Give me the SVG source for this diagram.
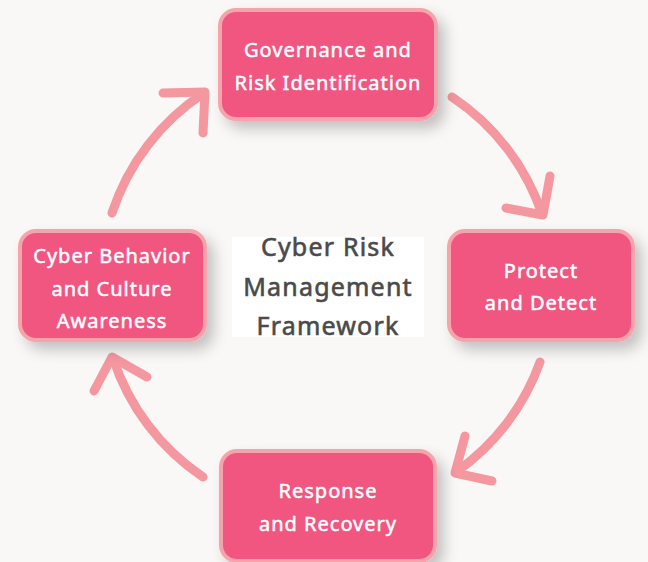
<svg xmlns="http://www.w3.org/2000/svg" width="648" height="562" viewBox="0 0 648 562">
<defs>
<style>
.node rect{fill:#f0567f;stroke:#f6a4ab;stroke-width:4}
.node text{font-family:"Noto Sans","Open Sans",sans-serif;font-size:20px;font-weight:400;fill:#ffffff;stroke:#ffffff;stroke-width:0.5px;text-anchor:middle;letter-spacing:1px}
.center text{font-family:"Noto Sans","Open Sans",sans-serif;font-size:25px;font-weight:400;fill:#4a4a4a;stroke:#4a4a4a;stroke-width:0.6px;text-anchor:middle;letter-spacing:1.2px}
.arc{fill:none;stroke:#f4979f;stroke-width:9;stroke-linecap:round;stroke-linejoin:round}
</style>
<filter id="sh" x="-20%" y="-20%" width="150%" height="160%">
<feDropShadow dx="7" dy="8" stdDeviation="7" flood-color="#000" flood-opacity="0.22"/>
</filter>
</defs>
<rect width="648" height="562" fill="#f9f8f6"/>
<g id="connectors">
<path class="arc" d="M112,213 A228,228 0 0 1 204,93"/>
<path class="arc" d="M163,93 L205,92 L203,133"/>
<path class="arc" d="M452,97 A228,228 0 0 1 542,214"/>
<path class="arc" d="M550,176 L543,215 L506,208"/>
<path class="arc" d="M540,362 A228,228 0 0 1 456,472"/>
<path class="arc" d="M465,436 L455,473 L492,481"/>
<path class="arc" d="M203,477 A228,228 0 0 1 113,358"/>
<path class="arc" d="M147,377 L112,357 L94,391"/>
</g>
<g id="center" class="center">
<rect x="232" y="237" width="192" height="100" fill="#ffffff" stroke="none"/>
<text x="328" y="256">Cyber Risk</text>
<text x="328" y="296">Management</text>
<text x="328" y="335">Framework</text>
</g>
<g id="governance" class="node">
<rect x="220" y="10" width="216" height="109" rx="16" filter="url(#sh)"/>
<text x="328" y="57">Governance and</text>
<text x="328" y="90">Risk Identification</text>
</g>
<g id="protect" class="node">
<rect x="449" y="231" width="184" height="109" rx="16" filter="url(#sh)"/>
<text x="541" y="278">Protect</text>
<text x="541" y="310">and Detect</text>
</g>
<g id="response" class="node">
<rect x="221" y="451" width="214" height="110" rx="16" filter="url(#sh)"/>
<text x="328" y="498">Response</text>
<text x="328" y="531">and Recovery</text>
</g>
<g id="culture" class="node">
<rect x="20" y="231" width="185" height="109" rx="16" filter="url(#sh)"/>
<text x="112" y="263">Cyber Behavior</text>
<text x="112" y="296">and Culture</text>
<text x="112" y="328">Awareness</text>
</g>
</svg>
